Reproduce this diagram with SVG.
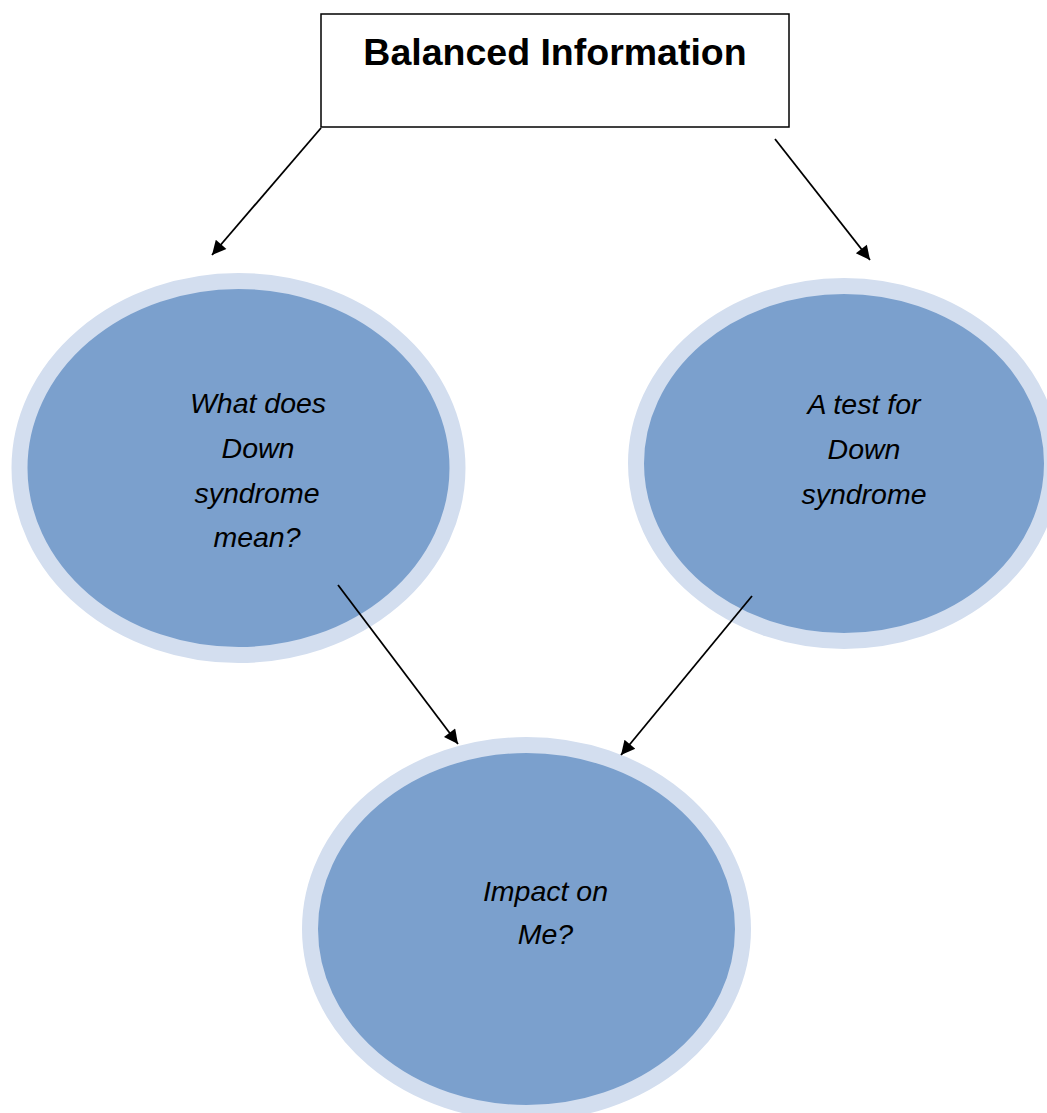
<svg xmlns="http://www.w3.org/2000/svg" width="1047" height="1113" viewBox="0 0 1047 1113">
<style>
.bubble{fill:#7BA0CD;stroke:#D3DEEF;stroke-width:16}
.lbl{font-family:"Liberation Sans",Arial,sans-serif;font-style:italic;font-size:28.5px;fill:#000;text-anchor:middle}
.title{font-family:"Liberation Sans",Arial,sans-serif;font-weight:bold;font-size:37.5px;fill:#000;text-anchor:middle}
.conn{stroke:#000;stroke-width:1.8;fill:none;marker-end:url(#ah)}
</style>
<defs>
<marker id="ah" viewBox="0 0 10 10" refX="10" refY="5" markerUnits="userSpaceOnUse" markerWidth="19" markerHeight="14" orient="auto">
<path d="M0,0 L10,5 L0,10 z" fill="#000"/>
</marker>
</defs>
<rect width="1047" height="1113" fill="#fff"/>
<g id="node-balanced">
<rect x="321" y="14" width="468" height="113" fill="#fff" stroke="#000" stroke-width="1.5"/>
<text class="title" x="555" y="65">Balanced Information</text>
</g>
<g id="node-what">
<ellipse class="bubble" cx="238.5" cy="468" rx="219" ry="187"/>
<text class="lbl" x="258" y="413">What does</text>
<text class="lbl" x="258" y="458">Down</text>
<text class="lbl" x="257" y="503">syndrome</text>
<text class="lbl" x="257" y="547">mean?</text>
</g>
<g id="node-test">
<ellipse class="bubble" cx="844" cy="463.5" rx="208" ry="177.5"/>
<text class="lbl" x="864" y="414">A test for</text>
<text class="lbl" x="864" y="459">Down</text>
<text class="lbl" x="864" y="504">syndrome</text>
</g>
<g id="node-impact">
<ellipse class="bubble" cx="526.5" cy="929" rx="216.5" ry="184"/>
<text class="lbl" x="545.5" y="901">Impact on</text>
<text class="lbl" x="545.5" y="944">Me?</text>
</g>
<g id="connectors">
<line class="conn" x1="321" y1="128" x2="212" y2="255"/>
<line class="conn" x1="775" y1="139" x2="870" y2="260"/>
<line class="conn" x1="338" y1="585" x2="458" y2="744"/>
<line class="conn" x1="752" y1="596" x2="621" y2="755"/>
</g>
</svg>
